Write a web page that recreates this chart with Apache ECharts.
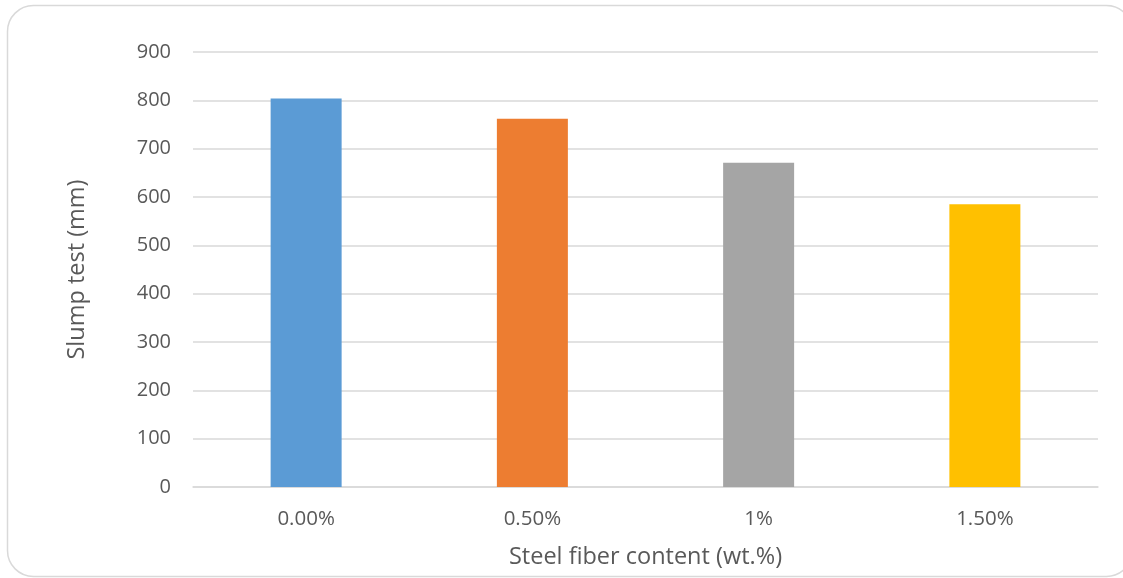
<!DOCTYPE html>
<html>
<head>
<meta charset="utf-8">
<script src="https://cdn.jsdelivr.net/npm/echarts@6/dist/echarts.min.js"></script>
<style>
  html, body { margin: 0; padding: 0; background: #ffffff; }
  #chart { width: 1123px; height: 578px; }
</style>
</head>
<body>
<div id="chart"></div>
<script>
// Slump test results by steel fiber content
const categories = ['0.00%', '0.50%', '1%', '1.50%'];
const slumpValues = [804, 762, 671, 585];
const barColors = ['#5b9bd5', '#ed7d31', '#a5a5a5', '#ffc000'];

const textColor = '#595959';
const fontFamily = '"Open Sans", sans-serif';

const chart = echarts.init(document.getElementById('chart'));
chart.setOption({
  animation: false,
  backgroundColor: '#ffffff',
  graphic: [{
    type: 'rect',
    shape: { x: 7.5, y: 5.5, width: 1125, height: 571, r: 26 },
    style: { fill: 'none', stroke: '#d9d9d9', lineWidth: 1.5 },
    silent: true
  }],
  grid: { left: 193, right: 25, top: 52, bottom: 91 },
  xAxis: {
    type: 'category',
    data: categories,
    name: 'Steel fiber content (wt.%)',
    nameLocation: 'middle',
    nameGap: 58,
    nameTextStyle: { color: textColor, fontSize: 23.5, fontFamily },
    axisLine: { show: true, lineStyle: { color: '#d9d9d9', width: 1.5 } },
    axisTick: { show: false },
    axisLabel: { color: textColor, fontSize: 20.5, fontFamily, margin: 22 }
  },
  yAxis: {
    type: 'value',
    min: 0,
    max: 900,
    interval: 100,
    name: 'Slump test (mm)',
    nameLocation: 'middle',
    nameGap: 104,
    nameRotate: 90,
    nameTextStyle: { color: textColor, fontSize: 23.5, fontFamily },
    axisLine: { show: false },
    axisTick: { show: false },
    axisLabel: { color: textColor, fontSize: 20, fontFamily, margin: 22 },
    splitLine: { lineStyle: { color: '#d9d9d9', width: 1.5 } }
  },
  series: [{
    type: 'bar',
    barWidth: 71,
    data: slumpValues.map((v, i) => ({ value: v, itemStyle: { color: barColors[i] } }))
  }]
});
</script>
</body>
</html>
